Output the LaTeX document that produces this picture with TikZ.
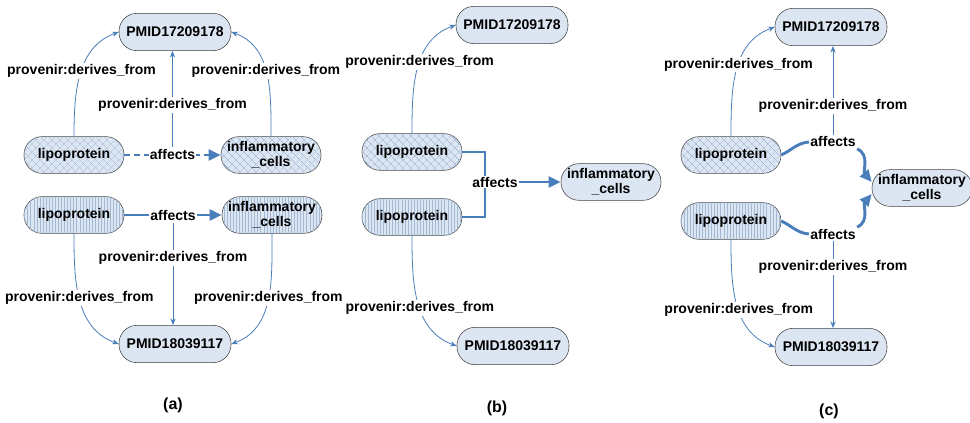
\documentclass[tikz,border=0pt]{standalone}
\usepackage{fontspec}
\setmainfont{Liberation Sans}
\usetikzlibrary{arrows.meta,patterns.meta}

\definecolor{nodefill}{HTML}{DCE6F2}
\definecolor{hatchcol}{HTML}{A3B8D3}
\definecolor{edgecol}{HTML}{4A7EBB}

\tikzset{
    entity/.style={draw=black!75, fill=nodefill, rounded corners=13.5pt,
      minimum height=27.5pt, minimum width=75pt, inner sep=1.5pt,
      align=center, font=\fontsize{10.5}{11.5}\selectfont\bfseries},
    pmid/.style={minimum width=84pt, minimum height=28pt},
    hatched/.style={
      postaction={pattern={Lines[angle=45,distance=4pt,line width=0.35pt]}, pattern color=hatchcol},
      postaction={pattern={Lines[angle=-45,distance=4pt,line width=0.35pt]}, pattern color=hatchcol}},
    striped/.style={
      postaction={pattern={Lines[angle=90,distance=2.3pt,line width=0.35pt]}, pattern color=hatchcol}},
    derive/.style={draw=edgecol, line width=0.6pt, -{Stealth[length=5pt,width=4pt]}},
    affect/.style={draw=edgecol, line width=2.2pt},
    affectarrow/.style={affect, -{Triangle[length=9pt,width=8pt]}},
    edgelabel/.style={fill=white, inner sep=1pt, font=\fontsize{10.5}{11.5}\selectfont\bfseries},
    caption/.style={font=\fontsize{12}{14}\selectfont\bfseries}
}

\begin{document}
\begin{tikzpicture}[x=0.75pt,y=-0.75pt]

    \useasboundingbox (0,0) rectangle (970,423);

    % (a)
    \node[entity,pmid] (pmidA1) at (175,32) {PMID17209178};
    \node[entity,hatched] (lipoA1) at (74,155) {lipoprotein};
    \node[entity,hatched] (inflA1) at (271,155) {inflammatory\\\_cells};
    \node[entity,striped] (lipoA2) at (74,215) {lipoprotein};
    \node[entity,striped] (inflA2) at (272,215) {inflammatory\\\_cells};
    \node[entity,pmid] (pmidA2) at (175,344) {PMID18039117};

    \draw[affectarrow, dash pattern=on 4.5pt off 3pt] (lipoA1) --
    node[edgelabel] (affA1) {affects} (inflA1);
    \draw[affectarrow] (lipoA2) --
    node[edgelabel] (affA2) {affects} (inflA2);

    \draw[derive] (lipoA1.north) to[out=90,in=200]
    node[edgelabel,pos=0.52] {provenir:derives\_from} (pmidA1.west);
    \draw[derive] (inflA1.north) to[out=90,in=-20]
    node[edgelabel,pos=0.52] {provenir:derives\_from} (pmidA1.east);
    \draw[derive] (affA1.north) --
    node[edgelabel,pos=0.44] {provenir:derives\_from} (affA1.north |- pmidA1.south);

    \draw[derive] (lipoA2.south) to[out=-90,in=160]
    node[edgelabel,pos=0.48] {provenir:derives\_from} (pmidA2.west);
    \draw[derive] (inflA2.south) to[out=-90,in=20]
    node[edgelabel,pos=0.48] {provenir:derives\_from} (pmidA2.east);
    \draw[derive] (affA2.south) --
    node[edgelabel,pos=0.34] {provenir:derives\_from} (affA2.south |- pmidA2.north);

    \node[caption] (capA) at (173,405) {(a)};

    % (b)
    \node[entity,pmid] (pmidB1) at (512,25) {PMID17209178};
    \node[entity,hatched] (lipoB1) at (412,152) {lipoprotein};
    \node[entity,striped] (lipoB2) at (412,217) {lipoprotein};
    \node[entity] (inflB) at (611,182) {inflammatory\\\_cells};
    \node[entity,pmid] (pmidB2) at (513,346) {PMID18039117};

    \coordinate (joinB) at (485,182);
    \draw[affect] (lipoB1.east) -| (joinB) |- (lipoB2.east);
    \node[edgelabel] (affB) at (495,182) {affects};
    \draw[affectarrow] (affB) -- (inflB);

    \draw[derive] (lipoB1.north) to[out=90,in=200]
    node[edgelabel,pos=0.55] {provenir:derives\_from} (pmidB1.west);
    \draw[derive] (lipoB2.south) to[out=-90,in=160]
    node[edgelabel,pos=0.55] {provenir:derives\_from} (pmidB2.west);

    \node[caption] (capB) at (497,408) {(b)};

    % (c)
    \node[entity,pmid] (pmidC1) at (831,27) {PMID17209178};
    \node[entity,hatched] (lipoC1) at (731,155) {lipoprotein};
    \node[entity,striped] (lipoC2) at (731,221) {lipoprotein};
    \node[entity] (inflC) at (922,188) {inflammatory\\\_cells};
    \node[entity,pmid] (pmidC2) at (831,347) {PMID18039117};

    \node[edgelabel] (affC1) at (833,142) {affects};
    \node[edgelabel] (affC2) at (833,234) {affects};
    \draw[affect] (lipoC1.east) to[out=25,in=185] (affC1.west);
    \draw[affectarrow] (affC1.south east) to[out=-25,in=130] ([yshift=4.5pt]inflC.west);
    \draw[affect] (lipoC2.east) to[out=-25,in=175] (affC2.west);
    \draw[affectarrow] (affC2.north east) to[out=25,in=-130] ([yshift=-4.5pt]inflC.west);

    \draw[derive] (affC1.north) --
    node[edgelabel,pos=0.33] {provenir:derives\_from} (affC1.north |- pmidC1.south);
    \draw[derive] (affC2.south) --
    node[edgelabel,pos=0.3] {provenir:derives\_from} (affC2.south |- pmidC2.north);

    \draw[derive] (lipoC1.north) to[out=90,in=200]
    node[edgelabel,pos=0.55] {provenir:derives\_from} (pmidC1.west);
    \draw[derive] (lipoC2.south) to[out=-90,in=160]
    node[edgelabel,pos=0.55] {provenir:derives\_from} (pmidC2.west);

    \node[caption] (capC) at (829,411) {(c)};

\end{tikzpicture}
\end{document}
